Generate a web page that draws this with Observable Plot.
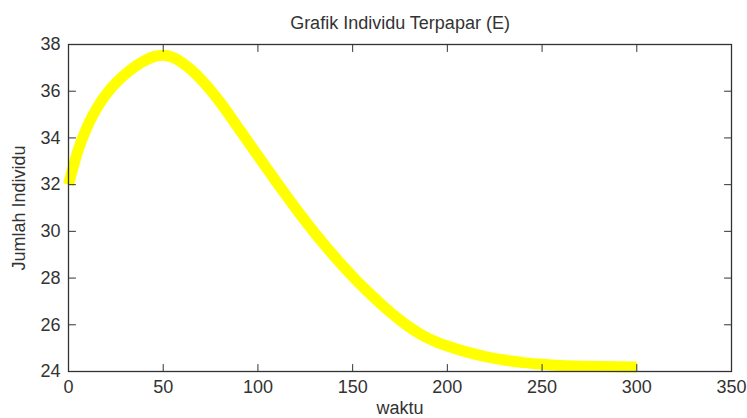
<!DOCTYPE html>
<html>
<head>
<meta charset="utf-8">
<script src="https://cdn.jsdelivr.net/npm/d3@7"></script>
<script src="https://cdn.jsdelivr.net/npm/@observablehq/plot@0.6"></script>
<style>
  html, body { margin: 0; padding: 0; background: #fff; }
</style>
</head>
<body>
<div id="chart"></div>
<script>
// ---- data ----
const waktu  = [0, 5, 10, 15, 20, 25, 30, 35, 40, 45, 50, 55, 60, 65, 70, 75, 80, 85, 90, 95,
                100, 105, 110, 115, 120, 125, 130, 135, 140, 145, 150, 155, 160, 165, 170, 175,
                180, 185, 190, 195, 200, 210, 220, 230, 240, 250, 260, 270, 280, 290, 300];
const jumlah = [32.0, 33.45, 34.5, 35.28, 35.88, 36.35, 36.73, 37.05, 37.3, 37.48, 37.54, 37.45,
                37.22, 36.9, 36.5, 36.04, 35.53, 34.97, 34.39, 33.81, 33.235, 32.66, 32.09, 31.53,
                30.98, 30.445, 29.93, 29.435, 28.96, 28.505, 28.07, 27.655, 27.26, 26.885, 26.53,
                26.2, 25.9, 25.64, 25.42, 25.24, 25.09, 24.84, 24.64, 24.49, 24.38, 24.31, 24.26,
                24.23, 24.21, 24.2, 24.19];
const xTicks = [0, 50, 100, 150, 200, 250, 300, 350];
const yTicks = [24, 26, 28, 30, 32, 34, 36, 38];
const titleText = "Grafik Individu Terpapar (E)";
const xLabelText = "waktu";
const yLabelText = "Jumlah Individu";

const data = waktu.map((t, i) => ({t, e: jumlah[i]}));

const axisColor = "#333";
const tickShape = {
  draw(context, l) { context.moveTo(0, 0); context.lineTo(0, -l); }
};
const tickOpts = {anchor: "start", length: 7, shape: tickShape, stroke: axisColor, strokeWidth: 1};

const chart = Plot.plot({
  width: 747,
  height: 418,
  marginLeft: 68,
  marginRight: 16,
  marginTop: 44,
  marginBottom: 47,
  style: {
    fontFamily: "'Liberation Sans', Arial, Helvetica, sans-serif",
    fontSize: "18px",
    color: "#333",
    background: "#fff"
  },
  x: {domain: [0, 350]},
  y: {domain: [24, 38]},
  marks: [
    Plot.line(data, {
      x: "t", y: "e",
      stroke: "#ffff00", strokeWidth: 11,
      curve: "monotone-x", strokeLinecap: "butt", strokeLinejoin: "round"
    }),
    Plot.frame({stroke: axisColor, strokeWidth: 1.3}),
    Plot.vector(xTicks, {x: d => d, frameAnchor: "bottom", rotate: 0, ...tickOpts}),
    Plot.vector(xTicks, {x: d => d, frameAnchor: "top", rotate: 180, ...tickOpts}),
    Plot.vector(yTicks, {y: d => d, frameAnchor: "left", rotate: 90, ...tickOpts}),
    Plot.vector(yTicks, {y: d => d, frameAnchor: "right", rotate: -90, ...tickOpts}),
    Plot.axisX({ticks: xTicks, tickSize: 0, tickPadding: 9, label: null, fill: "#333"}),
    Plot.axisY({ticks: yTicks, tickSize: 0, tickPadding: 8, label: null, fill: "#333"}),
    Plot.text([titleText], {text: d => d, frameAnchor: "top", dy: -21, lineAnchor: "middle", fill: "#333"}),
    Plot.text([xLabelText], {text: d => d, frameAnchor: "bottom", dy: 37, lineAnchor: "middle", fill: "#333"}),
    Plot.text([yLabelText], {text: d => d, frameAnchor: "left", dx: -49, rotate: -90, textAnchor: "middle", lineAnchor: "middle", fill: "#333"})
  ]
});
document.getElementById("chart").appendChild(chart);
</script>
</body>
</html>
